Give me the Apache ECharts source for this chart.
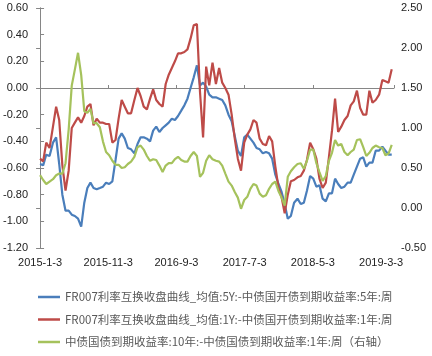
<!DOCTYPE html>
<html><head><meta charset="utf-8">
<script src="https://cdn.jsdelivr.net/npm/echarts@6/dist/echarts.min.js"></script>
<style>html,body{margin:0;padding:0;background:#fff}#c{width:432px;height:356px}</style>
</head><body><div id="c"></div>
<script>
const dates = [
'2015-01-03','2015-01-17','2015-01-31','2015-02-14','2015-02-28','2015-03-14','2015-03-28','2015-04-11','2015-04-25','2015-05-09','2015-05-23','2015-06-06','2015-06-20','2015-07-04','2015-07-18','2015-08-01','2015-08-15','2015-08-29','2015-09-12','2015-09-26','2015-10-10','2015-10-24','2015-11-07','2015-11-21','2015-12-05','2015-12-19',
'2016-01-02','2016-01-16','2016-01-30','2016-02-13','2016-02-27','2016-03-12','2016-03-26','2016-04-09','2016-04-23','2016-05-07','2016-05-21','2016-06-04','2016-06-18','2016-07-02','2016-07-16','2016-07-30','2016-08-13','2016-08-27','2016-09-10','2016-09-24','2016-10-08','2016-10-22','2016-11-05','2016-11-19','2016-12-03','2016-12-17','2016-12-31',
'2017-01-14','2017-01-28','2017-02-11','2017-02-25','2017-03-11','2017-03-25','2017-04-08','2017-04-22','2017-05-06','2017-05-20','2017-06-03','2017-06-17','2017-07-01','2017-07-15','2017-07-29','2017-08-12','2017-08-26','2017-09-09','2017-09-23','2017-10-07','2017-10-21','2017-11-04','2017-11-18','2017-12-02','2017-12-16','2017-12-30',
'2018-01-13','2018-01-27','2018-02-10','2018-02-24','2018-03-10','2018-03-24','2018-04-07','2018-04-21','2018-05-05','2018-05-19','2018-06-02','2018-06-16','2018-06-30','2018-07-14','2018-07-28','2018-08-11','2018-08-25','2018-09-08','2018-09-22','2018-10-06','2018-10-20','2018-11-03','2018-11-17','2018-12-01','2018-12-15','2018-12-29',
'2019-01-12','2019-01-26','2019-02-09','2019-02-23','2019-03-09','2019-03-23','2019-04-06','2019-04-20'
];
const spread5Y = [
-0.57,-0.58,-0.50,-0.51,-0.41,-0.37,-0.57,-0.80,-0.92,-0.92,
-0.95,-0.96,-0.98,-1.04,-0.86,-0.75,-0.71,-0.75,-0.76,-0.75,
-0.74,-0.71,-0.72,-0.70,-0.54,-0.38,-0.34,-0.38,-0.45,-0.46,
-0.49,-0.42,-0.37,-0.37,-0.38,-0.40,-0.32,-0.29,-0.33,-0.30,
-0.28,-0.26,-0.23,-0.24,-0.21,-0.17,-0.13,-0.08,0.00,0.08,
0.17,0.02,0.04,0.01,-0.05,-0.07,-0.07,-0.08,-0.09,-0.13,
-0.20,-0.25,-0.36,-0.47,-0.51,-0.37,-0.35,-0.38,-0.41,-0.45,
-0.46,-0.49,-0.48,-0.49,-0.53,-0.65,-0.72,-0.78,-0.87,-0.98,
-0.96,-0.86,-0.83,-0.87,-0.86,-0.77,-0.66,-0.68,-0.74,-0.73,
-0.83,-0.85,-0.79,-0.79,-0.68,-0.72,-0.75,-0.74,-0.71,-0.71,
-0.65,-0.59,-0.53,-0.52,-0.59,-0.56,-0.56,-0.47,-0.47,-0.44,
-0.47,-0.50,-0.50
];
const spread1Y = [
-0.53,-0.55,-0.41,-0.45,-0.29,-0.14,-0.24,-0.58,-0.77,-0.62,
-0.30,-0.26,-0.22,-0.26,-0.21,-0.14,-0.12,-0.28,-0.23,-0.26,
-0.26,-0.27,-0.27,-0.41,-0.39,-0.23,-0.09,-0.14,-0.19,-0.19,
-0.09,0.00,-0.06,-0.14,-0.16,-0.08,-0.01,-0.09,-0.12,-0.14,
0.03,0.10,0.15,0.20,0.26,0.26,0.27,0.29,0.37,0.47,
0.48,-0.03,-0.37,0.16,0.02,0.19,0.03,0.15,0.04,0.00,
-0.05,-0.20,-0.38,-0.53,-0.62,-0.41,-0.35,-0.31,-0.24,-0.26,
-0.38,-0.42,-0.43,-0.36,-0.40,-0.59,-0.75,-0.82,-0.94,-0.80,
-0.70,-0.69,-0.67,-0.66,-0.62,-0.54,-0.41,-0.46,-0.53,-0.68,
-0.75,-0.71,-0.52,-0.32,-0.08,-0.33,-0.29,-0.24,-0.21,-0.13,
-0.10,-0.02,-0.15,-0.20,-0.20,-0.02,-0.11,-0.09,-0.05,0.06,
0.05,0.04,0.14
];
const termSpread = [
0.41,0.35,0.30,0.33,0.36,0.41,0.43,0.43,0.56,0.98,
1.53,1.73,1.94,1.66,1.21,1.19,1.24,1.06,1.06,1.01,
0.83,0.70,0.66,0.59,0.54,0.54,0.50,0.51,0.55,0.58,
0.64,0.76,0.78,0.73,0.65,0.59,0.61,0.60,0.53,0.45,
0.53,0.56,0.56,0.61,0.64,0.60,0.58,0.58,0.65,0.70,
0.65,0.39,0.44,0.59,0.66,0.61,0.59,0.58,0.53,0.43,
0.33,0.28,0.20,0.13,-0.01,0.10,0.14,0.24,0.30,0.28,
0.18,0.14,0.16,0.24,0.30,0.33,0.21,0.13,0.03,0.39,
0.46,0.51,0.55,0.56,0.49,0.59,0.73,0.73,0.56,0.45,
0.34,0.40,0.59,0.69,0.85,0.78,0.80,0.70,0.66,0.70,
0.73,0.85,0.86,0.76,0.65,0.69,0.75,0.78,0.76,0.75,
0.66,0.68,0.79
];
const xTickLabels = ['2015-1-3','2015-11-3','2016-9-3','2017-7-3','2018-5-3','2019-3-3'];
const seriesNames = [
'FR007利率互换收盘曲线_均值:5Y:-中债国开债到期收益率:5年:周',
'FR007利率互换收盘曲线_均值:1Y:-中债国开债到期收益率:1年:周',
'中债国债到期收益率:10年:-中债国债到期收益率:1年:周（右轴）'
];

function monthIndex(s){
  const [y,m,d] = s.split('-').map(Number);
  const dim = new Date(y, m, 0).getDate();
  return (y-2015)*12 + (m-1) + (d-3)/dim;
}
const xs = dates.map(monthIndex);
const pair = arr => arr.map((v,i)=>[xs[i], v]);

const axisColor = '#868686';
const labelFont = {fontFamily:'Liberation Sans', fontSize:11, color:'#222'};
const chart = echarts.init(document.getElementById('c'), null, {renderer:'canvas'});
chart.setOption({
  animation:false,
  backgroundColor:'#fff',
  grid:{left:39, right:38, top:8, bottom:108, containLabel:false},
  xAxis:[{
    type:'value', min:0, max:51.9, interval:10, position:'bottom',
    axisLine:{show:false, onZero:false}, axisTick:{show:false}, splitLine:{show:false},
    axisLabel:Object.assign({margin:9, showMaxLabel:false, formatter:v=>{const i=Math.round(v/10); return Math.abs(v-i*10)<1e-6 && xTickLabels[i]!==undefined ? xTickLabels[i] : '';}}, labelFont)
  },{
    type:'value', min:0, max:51.9, interval:10, position:'bottom',
    axisLine:{show:true, onZero:true, onZeroAxisIndex:0, lineStyle:{color:axisColor, width:1}},
    axisTick:{show:true, inside:true, length:3, lineStyle:{color:axisColor}},
    axisLabel:{show:false}, splitLine:{show:false}
  }],
  yAxis:[{
    type:'value', min:-1.2, max:0.6, interval:0.2, position:'left',
    axisLine:{show:true, lineStyle:{color:axisColor}},
    axisTick:{show:true, inside:true, length:4, lineStyle:{color:axisColor}},
    splitLine:{show:false},
    axisLabel:Object.assign({margin:12, formatter:v=>v.toFixed(2)}, labelFont)
  },{
    type:'value', min:-0.5, max:2.5, interval:0.5, position:'right',
    axisLine:{show:true, lineStyle:{color:axisColor}},
    axisTick:{show:true, inside:true, length:4, lineStyle:{color:axisColor}},
    splitLine:{show:false},
    axisLabel:Object.assign({margin:7, formatter:v=>v.toFixed(2)}, labelFont)
  }],
  legend:{
    orient:'vertical', left:33, top:285, itemWidth:22, itemHeight:2.5, itemGap:8.5, icon:'rect',
    textStyle:{fontFamily:'Noto Sans CJK SC', fontSize:11.5, color:'#595959', lineHeight:14},
    data:seriesNames
  },
  series:[
    {name:seriesNames[0], type:'line', xAxisIndex:0, yAxisIndex:0, data:pair(spread5Y), showSymbol:false, symbol:'none', color:'#4A7EBB', lineStyle:{width:2.2}},
    {name:seriesNames[1], type:'line', xAxisIndex:0, yAxisIndex:0, data:pair(spread1Y), showSymbol:false, symbol:'none', color:'#BE4B48', lineStyle:{width:2.2}},
    {name:seriesNames[2], type:'line', xAxisIndex:0, yAxisIndex:1, data:pair(termSpread), showSymbol:false, symbol:'none', color:'#A5C25C', lineStyle:{width:2.2}}
  ]
});
</script></body></html>
